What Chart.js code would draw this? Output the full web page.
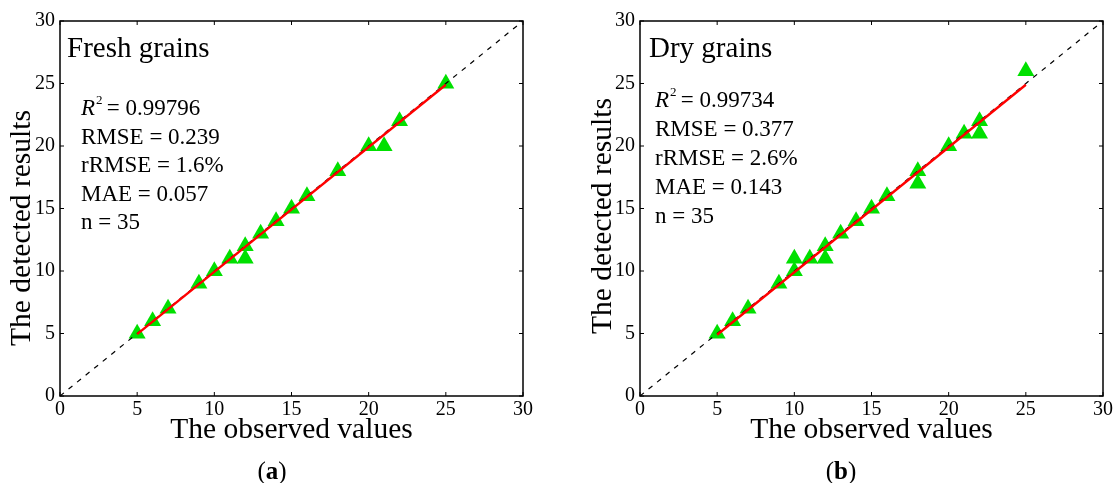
<!DOCTYPE html>
<html>
<head>
<meta charset="utf-8">
<script src="https://cdn.jsdelivr.net/npm/chart.js@4"></script>
<style>
  body { margin: 0; background: #fff; width: 1115px; height: 483px; overflow: hidden; }
  .panel { position: absolute; top: 0; }
  .cap { position: absolute; top: 457px; width: 60px; margin-left: -30px; text-align: center; font: 25px "Liberation Serif", serif; color: #000; }
</style>
</head>
<body>
<div class="panel" style="left:0"><canvas id="chartA" width="557" height="483"></canvas></div>
<div class="panel" style="left:557px"><canvas id="chartB" width="558" height="483"></canvas></div>
<div class="cap" style="left:272px">(<b>a</b>)</div>
<div class="cap" style="left:841px">(<b>b</b>)</div>
<script>
// observed vs detected, fresh grains
const freshObserved = [5, 6, 7, 9, 10, 11, 12, 12, 13, 14, 15, 16, 18, 20, 21, 22, 25];
const freshDetected = [5, 6, 7, 9, 10, 11, 12, 11, 13, 14, 15, 16, 18, 20, 20, 22, 25];
const freshFit = [[5, 4.95], [25, 24.9]];
const freshStats = ["RMSE = 0.239", "rRMSE = 1.6%", "MAE = 0.057", "n = 35"];
const freshR2 = "0.99796";

// observed vs detected, dry grains
const dryObserved = [5, 6, 7, 9, 10, 10, 11, 12, 12, 13, 14, 15, 16, 18, 18, 20, 21, 22, 22, 25];
const dryDetected = [5, 6, 7, 9, 10, 11, 11, 12, 11, 13, 14, 15, 16, 18, 17, 20, 21, 22, 21, 26];
const dryFit = [[5, 4.9], [25, 24.9]];
const dryStats = ["RMSE = 0.377", "rRMSE = 2.6%", "MAE = 0.143", "n = 35"];
const dryR2 = "0.99734";

const oneToOne = [[0, 0], [30, 30]];
const axisTicks = [0, 5, 10, 15, 20, 25, 30];

const SERIF = '"Liberation Serif", "Times New Roman", serif';

// box around plot + inward ticks on all four sides
const frameTicks = {
	id: "frameTicks",
	afterDraw(chart) {
		const { ctx, chartArea: a, scales } = chart;
		ctx.save();
		ctx.strokeStyle = "#000";
		ctx.lineWidth = 1.5;
		ctx.strokeRect(a.left, a.top, a.right - a.left, a.bottom - a.top);
		ctx.lineWidth = 1;
		ctx.beginPath();
		axisTicks.forEach(function (v) {
			const px = scales.x.getPixelForValue(v);
			const py = scales.y.getPixelForValue(v);
			ctx.moveTo(px, a.bottom); ctx.lineTo(px, a.bottom - 4);
			ctx.moveTo(px, a.top); ctx.lineTo(px, a.top + 4);
			ctx.moveTo(a.left, py); ctx.lineTo(a.left + 4, py);
			ctx.moveTo(a.right, py); ctx.lineTo(a.right - 4, py);
		});
		ctx.stroke();
		ctx.restore();
	},
};

// panel title, stats block and rotated y title
const notes = {
	id: "notes",
	afterDraw(chart) {
		const o = chart.options.plugins.notes;
		const { ctx, chartArea: a } = chart;
		ctx.save();
		ctx.fillStyle = "#000";
		ctx.textBaseline = "alphabetic";
		ctx.textAlign = "left";
		ctx.font = "29px " + SERIF;
		ctx.fillText(o.title, a.left + o.titleDx, 57);

		const x = a.left + o.statsDx;
		const y = o.firstY;
		ctx.font = "italic 23px " + SERIF;
		ctx.fillText("R", x, y);
		const rw = ctx.measureText("R").width;
		ctx.font = "13px " + SERIF;
		ctx.fillText("2", x + rw + 1, y - 11);
		ctx.font = "23px " + SERIF;
		ctx.fillText(" = " + o.r2, x + rw + 6, y);
		o.lines.forEach(function (t, i) {
			ctx.fillText(t, x, y + (i + 1) * o.lineGap);
		});

		ctx.font = "29.5px " + SERIF;
		ctx.textAlign = "center";
		ctx.textBaseline = "middle";
		ctx.translate(o.yTitleX, o.yTitleY);
		ctx.rotate(-Math.PI / 2);
		ctx.fillText("The detected results", 0, 0);
		ctx.restore();
	},
};

function toPoints(xs, ys) {
	return xs.map(function (v, i) { return { x: v, y: ys[i] }; });
}
function pairs(arr) {
	return arr.map(function (p) { return { x: p[0], y: p[1] }; });
}

function makeChart(id, obs, det, fit, note, yWidth, padRight) {
	return new Chart(document.getElementById(id).getContext("2d"), {
		type: "scatter",
		data: {
			datasets: [
				{
					type: "line",
					data: pairs(fit),
					borderColor: "#ff0000",
					borderWidth: 2.4,
					pointRadius: 0,
					order: 0,
				},
				{
					type: "line",
					data: pairs(oneToOne),
					borderColor: "#000",
					borderWidth: 1.2,
					borderDash: [5, 6],
					pointRadius: 0,
					order: 1,
				},
				{
					data: toPoints(obs, det),
					pointStyle: "triangle",
					pointRadius: 9.8,
					pointHoverRadius: 9.8,
					backgroundColor: "#00e000",
					borderColor: "#00e000",
					borderWidth: 0,
					order: 2,
				},
			],
		},
		options: {
			responsive: false,
			animation: false,
			events: [],
			layout: { padding: { top: 21, right: padRight, left: 0, bottom: 0 } },
			plugins: {
				legend: { display: false },
				tooltip: { enabled: false },
				notes: note,
			},
			scales: {
				x: {
					type: "linear",
					min: 0,
					max: 30,
					afterFit(s) { s.height = 87; },
					afterBuildTicks(s) { s.ticks = axisTicks.map(function (v) { return { value: v }; }); },
					grid: { display: false, drawTicks: false },
					border: { display: false },
					ticks: { color: "#000", padding: 2, maxRotation: 0, font: { family: SERIF, size: 20 } },
					title: {
						display: true,
						text: "The observed values",
						color: "#000",
						font: { family: SERIF, size: 29.5 },
						padding: { top: 0, bottom: 35 },
					},
				},
				y: {
					type: "linear",
					min: 0,
					max: 30,
					afterFit(s) { s.width = yWidth; },
					afterBuildTicks(s) { s.ticks = axisTicks.map(function (v) { return { value: v }; }); },
					grid: { display: false, drawTicks: false },
					border: { display: false },
					ticks: { color: "#000", padding: 5, font: { family: SERIF, size: 20 } },
				},
			},
		},
		plugins: [frameTicks, notes],
	});
}

makeChart("chartA", freshObserved, freshDetected, freshFit, {
	title: "Fresh grains", titleDx: 7, statsDx: 21, firstY: 115, lineGap: 28.5,
	r2: freshR2, lines: freshStats, yTitleX: 22, yTitleY: 228,
}, 60, 34);

makeChart("chartB", dryObserved, dryDetected, dryFit, {
	title: "Dry grains", titleDx: 9, statsDx: 15, firstY: 107, lineGap: 29,
	r2: dryR2, lines: dryStats, yTitleX: 46, yTitleY: 216,
}, 83, 11);
</script>
</body>
</html>
